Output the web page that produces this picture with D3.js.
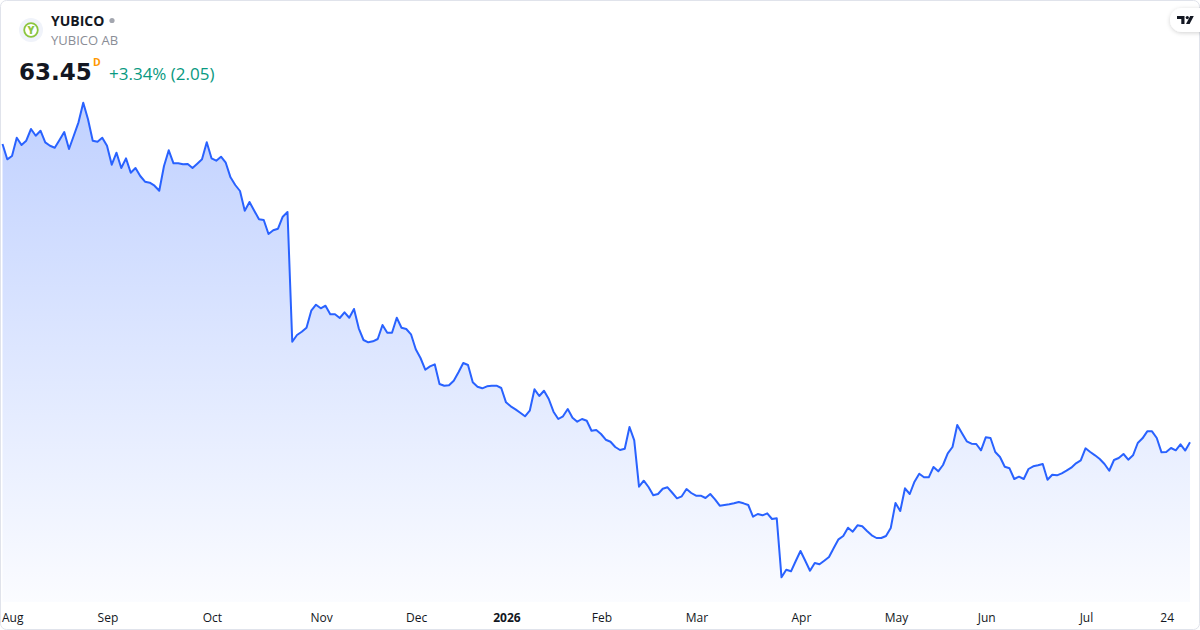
<!DOCTYPE html>
<html>
<head>
<meta charset="utf-8">
<script src="https://cdn.jsdelivr.net/npm/d3@7"></script>
<style>
  html, body { margin: 0; padding: 0; background: #fff; }
  svg { display: block; }
</style>
</head>
<body>
<svg id="chart" width="1200" height="630"></svg>
<script>
// ---------- DATA ----------
const symbol = "YUBICO";
const companyName = "YUBICO AB";
const lastPrice = "63.45";
const changeText = "+3.34% (2.05)";
const startDate = "2025-07-30";
const holidays = ["2025-12-24","2025-12-25","2025-12-26","2025-12-31","2026-01-01","2026-01-06",
                  "2026-04-03","2026-04-06","2026-05-01","2026-05-14","2026-06-19"];
const tickLabels = ["Aug","Sep","Oct","Nov","Dec","2026","Feb","Mar","Apr","May","Jun","Jul","24"];
const tickDates  = ["2025-08-01","2025-09-01","2025-10-01","2025-11-03","2025-12-01","2026-01-02",
                    "2026-02-02","2026-03-02","2026-04-01","2026-05-04","2026-06-01","2026-07-01","2026-07-24"];
const boldTicks = ["2026"];
// daily closes (SEK), one per trading day
const closes = [
 138.03,134.20,135.03,139.60,137.78,138.85,141.78,140.10,141.35,138.45,
 137.60,137.10,139.03,141.03,136.78,140.10,143.45,148.35,144.20,138.85,
 138.60,139.60,137.60,132.85,135.85,132.03,134.45,130.85,132.03,130.03,
 128.60,128.35,127.60,126.35,132.53,136.45,133.20,133.20,132.95,133.03,
 132.03,133.10,134.20,138.45,134.45,133.85,134.85,133.35,129.70,127.78,
 126.28,121.35,123.53,121.35,119.20,119.03,115.53,116.45,116.85,119.85,
 121.03, 88.60, 90.28, 91.10, 92.10, 96.35, 97.85, 96.95, 97.60, 95.45,
  95.45, 94.53, 95.95, 94.60, 96.78, 91.95, 89.03, 88.45, 88.70, 89.28,
  92.78, 90.85, 90.85, 94.60, 92.10, 91.78, 90.45, 86.70, 84.53, 81.60,
  82.45, 82.95, 78.03, 77.60, 77.70, 78.85, 80.95, 83.28, 82.78, 78.45,
  77.35, 76.95, 77.45, 77.60, 77.60, 77.03, 73.45, 72.45, 71.70, 70.85,
  69.95, 71.35, 76.70, 75.03, 76.35, 74.28, 71.10, 69.28, 69.95, 71.78,
  69.60, 68.60, 69.28, 68.85, 66.35, 66.53, 65.53, 64.10, 63.60, 62.28,
  61.53, 61.85, 67.28, 63.95, 52.35, 53.85, 52.28, 50.20, 50.53, 51.85,
  52.20, 50.85, 49.45, 49.95, 51.78, 50.78, 50.10, 50.10, 49.53, 50.53,
  49.20, 47.60, 47.78, 47.95, 48.20, 48.53, 48.20, 47.78, 44.85, 45.53,
  45.20, 45.70, 44.28, 44.45, 29.70, 31.60, 31.20, 33.78, 36.28, 33.85,
  31.35, 33.28, 32.95, 33.85, 34.78, 37.03, 39.20, 40.03, 42.10, 41.10,
  42.70, 42.45, 41.28, 40.20, 39.53, 39.53, 40.03, 42.03, 48.28, 46.28,
  51.95, 50.53, 53.60, 55.60, 54.70, 54.70, 57.28, 56.20, 57.78, 60.70,
  62.28, 67.78, 65.70, 63.70, 63.10, 63.03, 61.45, 64.70, 64.53, 61.03,
  59.78, 57.35, 56.95, 54.28, 54.85, 54.28, 56.78, 57.45, 57.70, 58.03,
  54.10, 55.35, 55.20, 55.70, 56.35, 57.10, 58.20, 58.95, 61.95, 61.03,
  60.20, 59.28, 58.03, 56.35, 59.03, 59.53, 60.53, 59.10, 60.20, 63.28,
  64.45, 66.20, 66.20, 64.53, 60.95, 61.03, 62.03, 61.45, 62.95, 61.40,
  63.45
];
const priceDomain = [24.03, 151.53];

// ---------- TRADING CALENDAR ----------
const fmt = d3.utcFormat("%Y-%m-%d");
const dates = [];
{
  let d = new Date(startDate + "T00:00:00Z");
  while (dates.length < closes.length) {
    const wd = d.getUTCDay();
    const s = fmt(d);
    if (wd !== 0 && wd !== 6 && !holidays.includes(s)) dates.push(s);
    d = d3.utcDay.offset(d, 1);
  }
}
const data = closes.map((v, i) => ({ i, date: dates[i], v }));

// ---------- LAYOUT ----------
const W = 1200, H = 630;
const plotTop = 90, plotBottom = 600, areaBottom = 602;
const svg = d3.select("#chart");
const defs = svg.append("defs");

const x = d3.scaleLinear().domain([0, closes.length - 1]).range([2.5, 1190]);
const y = d3.scaleLinear().domain(priceDomain).range([plotBottom, plotTop]);

// frame
svg.append("rect").attr("x", 0.5).attr("y", 0.5).attr("width", W - 1).attr("height", H - 1)
  .attr("rx", 6).attr("fill", "#fff").attr("stroke", "#e0e3eb");

// gradient
const grad = defs.append("linearGradient").attr("id", "areaGrad")
  .attr("gradientUnits", "userSpaceOnUse").attr("x1", 0).attr("x2", 0)
  .attr("y1", plotTop).attr("y2", areaBottom);
grad.append("stop").attr("offset", "0%").attr("stop-color", "rgb(41,98,255)").attr("stop-opacity", 0.3);
grad.append("stop").attr("offset", "100%").attr("stop-color", "rgb(41,98,255)").attr("stop-opacity", 0.02);

const area = d3.area().x(d => x(d.i)).y0(areaBottom).y1(d => y(d.v));
const line = d3.line().x(d => x(d.i)).y(d => y(d.v));

svg.append("path").datum(data).attr("d", area).attr("fill", "url(#areaGrad)");
svg.append("path").datum(data).attr("d", line).attr("fill", "none")
  .attr("stroke", "#2962ff").attr("stroke-width", 2).attr("stroke-linejoin", "round");

// x axis labels
const axisG = svg.append("g").attr("font-family", "'Open Sans', sans-serif").attr("font-size", 12)
  .attr("fill", "#131722");
tickLabels.forEach((lab, k) => {
  const idx = dates.indexOf(tickDates[k]);
  const t = axisG.append("text").text(lab)
    .attr("y", 622)
    .attr("text-anchor", "middle")
    .attr("font-weight", boldTicks.includes(lab) ? 700 : 400);
  const w = t.node().getComputedTextLength();
  let px = x(idx - 0.8);
  px = Math.max(px, w / 2 + 2);
  t.attr("x", px);
});

// ---------- HEADER ----------
const hdr = svg.append("g").attr("font-family", "'Open Sans', sans-serif");
hdr.append("circle").attr("cx", 31).attr("cy", 30).attr("r", 12).attr("fill", "#f0f3fa");
hdr.append("circle").attr("cx", 31).attr("cy", 30).attr("r", 6.8).attr("fill", "#fff")
  .attr("stroke", "#8cc63f").attr("stroke-width", 1.8);
hdr.append("text").attr("x", 31).attr("y", 33.8).attr("text-anchor", "middle")
  .attr("font-size", 10.5).attr("font-weight", 800).attr("fill", "#8cc63f").text("Y");

hdr.append("text").attr("x", 51).attr("y", 26).attr("font-size", 14).attr("font-weight", 700)
  .attr("fill", "#131722").text(symbol);
hdr.append("circle").attr("cx", 112).attr("cy", 20.5).attr("r", 2.6).attr("fill", "#a3a6af");
hdr.append("text").attr("x", 51).attr("y", 45).attr("font-size", 13)
  .attr("fill", "#8a8d96").text(companyName);

hdr.append("text").attr("x", 19).attr("y", 80).attr("font-family", "'DejaVu Sans', sans-serif")
  .attr("font-size", 23).attr("font-weight", 700).attr("fill", "#131722").text(lastPrice);
hdr.append("text").attr("x", 93).attr("y", 66).attr("font-size", 10.5).attr("font-weight", 700)
  .attr("fill", "#ff9800").text("D");
hdr.append("text").attr("x", 109).attr("y", 80).attr("font-size", 17)
  .attr("fill", "#089981").text(changeText);

// ---------- TradingView badge ----------
const sh = defs.append("filter").attr("id", "shadow").attr("x", "-50%").attr("y", "-50%")
  .attr("width", "200%").attr("height", "200%");
sh.append("feDropShadow").attr("dx", 0).attr("dy", 1).attr("stdDeviation", 2)
  .attr("flood-color", "#000").attr("flood-opacity", 0.18);
const badge = svg.append("g");
badge.append("rect").attr("x", 1170).attr("y", 8).attr("width", 48).attr("height", 24).attr("rx", 12)
  .attr("fill", "#fff").attr("filter", "url(#shadow)");
badge.append("path").attr("fill", "#131722")
  .attr("d", "M1177,16 h7.5 v8 h-3.2 v-5 h-4.3 z");
badge.append("circle").attr("cx", 1187.3).attr("cy", 17.6).attr("r", 1.6).attr("fill", "#131722");
badge.append("path").attr("fill", "#131722")
  .attr("d", "M1190.2,16 h3.6 l-4.2,8 h-3.6 z");
</script>
</body>
</html>
